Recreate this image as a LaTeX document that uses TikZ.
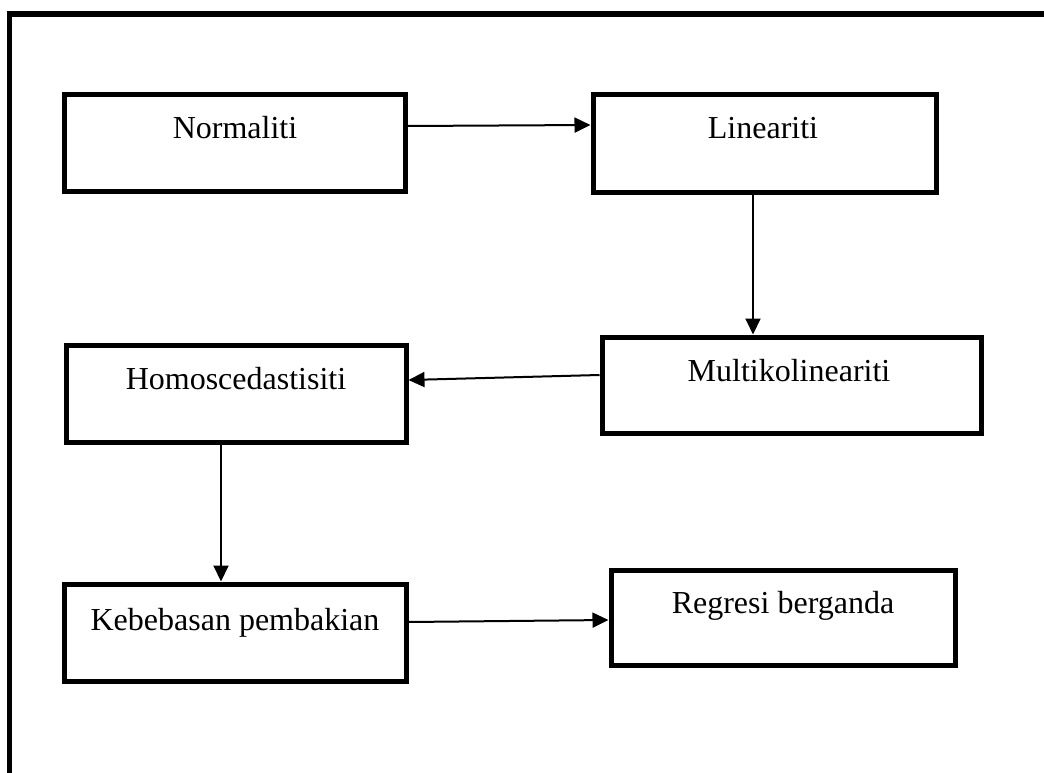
\documentclass[tikz,border=0pt]{standalone}
\usepackage{fontspec}
\setmainfont{Liberation Serif}
\usetikzlibrary{arrows.meta}
\begin{document}
\begin{tikzpicture}[x=1pt,y=-1pt,
  frame/.style={line width=5.5pt},
  box/.style={draw, line width=5pt, inner sep=0pt},
  lbl/.style={font=\fontsize{32}{38}\selectfont, anchor=base, inner sep=0pt},
  link/.style={line width=2pt, -{Triangle[length=16pt,width=15pt]}}]
  \useasboundingbox (0,0) rectangle (1044,773);
  \clip (0,0) rectangle (1044,773);

  % outer frame (runs past the page on the right and bottom)
  \draw[frame] (9.5,800) -- (9.5,14) -- (1070,14);

  % boxes
  \node[box, minimum width=341pt, minimum height=96pt] (N) at (234.5,143) {};
  \node[box, minimum width=343pt, minimum height=97pt] (L) at (764.5,143.5) {};
  \node[box, minimum width=379pt, minimum height=96pt] (M) at (791.5,385) {};
  \node[box, minimum width=340pt, minimum height=97pt] (H) at (236,393.5) {};
  \node[box, minimum width=342pt, minimum height=97pt] (K) at (235,632.5) {};
  \node[box, minimum width=344pt, minimum height=95pt] (R) at (783,617.5) {};

  % labels
  \node[lbl] (tN) at (235,139) {Normaliti};
  \node[lbl] (tL) at (763,139) {Lineariti};
  \node[lbl] (tM) at (789,381) {Multikolineariti};
  \node[lbl] (tH) at (236,389) {Homoscedastisiti};
  \node[lbl] (tK) at (235,630) {Kebebasan pembakian};
  \node[lbl] (tR) at (783,613) {Regresi berganda};

  % connectors
  \draw[link] (N.east |- 0,126) -- (L.west |- 0,125);
  \draw[link] (L.south -| 753,0) -- (M.north -| 753,0);
  \draw[link] (M.west |- 0,375) -- (H.east |- 0,380);
  \draw[link] (H.south -| 221,0) -- (K.north -| 221,0);
  \draw[link] (K.east |- 0,622) -- (R.west |- 0,620);
\end{tikzpicture}
\end{document}
